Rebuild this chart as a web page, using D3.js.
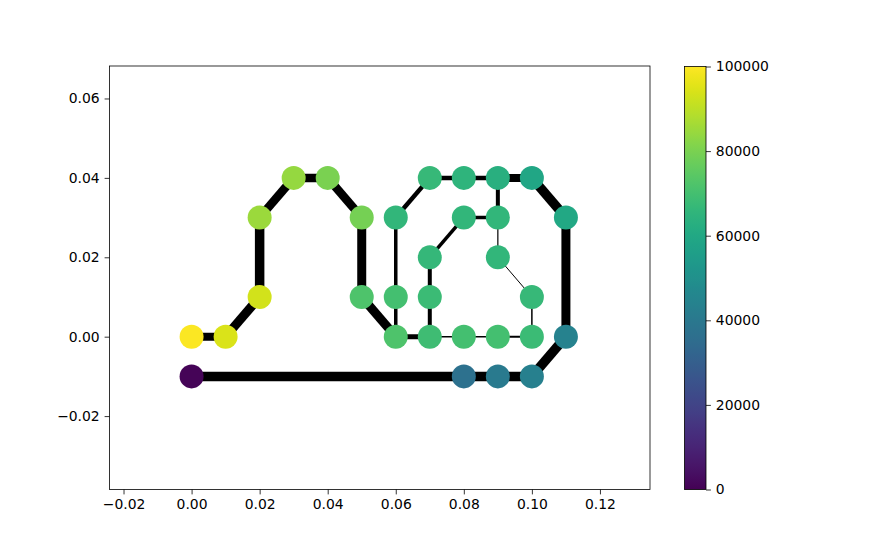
<!DOCTYPE html>
<html>
<head>
<meta charset="utf-8">
<script src="https://cdn.jsdelivr.net/npm/d3@7"></script>
<style>
body{margin:0;background:#fff;}
text{font-family:"DejaVu Sans",sans-serif;}
</style>
</head>
<body>
<svg id="chart" width="873" height="550"></svg>
<script>
// node positions and values
const nodeX = [0.00,0.01,0.02,0.02,0.03,0.04,0.05,0.05,0.06,0.06,0.06,0.07,0.08,0.09,0.10,0.11,0.11,0.10,0.09,0.08,0.00,
               0.07,0.08,0.09,0.10,0.10,0.09,0.09,0.08,0.07,0.07];
const nodeY = [0.00,0.00,0.01,0.03,0.04,0.04,0.03,0.01,0.00,0.01,0.03,0.04,0.04,0.04,0.04,0.03,0.00,-0.01,-0.01,-0.01,-0.01,
               0.00,0.00,0.00,0.00,0.01,0.02,0.03,0.03,0.02,0.01];
const nodeValue = [99500,94500,93000,85000,84000,80000,79000,72000,72000,70000,66000,67000,65000,63000,59000,60000,44500,43000,41000,37000,1000,
                   69000,70000,70000,68000,67000,66000,66000,66000,66500,68000];
// edges: [from, to] and line widths
const edgeFrom = [0,1,2,3,4,5,6,7,8,9,10,11,12,13,14,15,16,17,18,19,13,27,28,29,30,8,21,22,23,24,25,26];
const edgeTo   = [1,2,3,4,5,6,7,8,9,10,11,12,13,14,15,16,17,18,19,20,27,28,29,30,21,21,22,23,24,25,26,27];
const edgeWidth= [8,9,9.5,8.5,8.5,8.5,9,9,3.5,3.5,4.5,4.5,4.5,8,9.5,9,9.5,9.5,9.5,9.5,4,3.5,3.5,4,4,5,1.5,1.5,2,1.5,1,1.2];
const xTicks = [-0.02,0.00,0.02,0.04,0.06,0.08,0.10,0.12];
const yTicks = [-0.02,0.00,0.02,0.04,0.06];
const cbTicks = [0,20000,40000,60000,80000,100000];

const svg = d3.select("#chart");
const L=109.5, R=650, T=66, B=489.5;
const x = d3.scaleLinear().domain([-0.02412,0.13471]).range([L,R]);
const y = d3.scaleLinear().domain([-0.03849,0.06818]).range([B,T]);
const color = d3.scaleSequential(d3.interpolateViridis).domain([0,100000]);
const fs = "13.9px";

// edges
svg.append("g").selectAll("line").data(edgeFrom.map((f,i)=>({f,t:edgeTo[i],w:edgeWidth[i]})))
  .join("line")
  .attr("x1",d=>x(nodeX[d.f])).attr("y1",d=>y(nodeY[d.f]))
  .attr("x2",d=>x(nodeX[d.t])).attr("y2",d=>y(nodeY[d.t]))
  .attr("stroke","#000").attr("stroke-width",d=>d.w);

// nodes
svg.append("g").selectAll("circle").data(nodeX.map((v,i)=>i))
  .join("circle")
  .attr("cx",i=>x(nodeX[i])).attr("cy",i=>y(nodeY[i])).attr("r",12)
  .attr("fill",i=>color(nodeValue[i]));

// axes
const fmt = d3.format(".2f");
const tfmt = v => fmt(v).replace("-","\u2212");
const xa = svg.append("g").attr("transform",`translate(0,${B})`)
  .call(d3.axisBottom(x).tickValues(xTicks).tickFormat(tfmt).tickSize(4.9).tickPadding(4.9));
const ya = svg.append("g").attr("transform",`translate(${L},0)`)
  .call(d3.axisLeft(y).tickValues(yTicks).tickFormat(tfmt).tickSize(4.9).tickPadding(4.9));
[xa,ya].forEach(a=>{
  a.select(".domain").remove();
  a.selectAll("text").attr("font-size",fs).attr("font-family","DejaVu Sans").attr("fill","#000");
  a.selectAll("line").attr("stroke","#000").attr("stroke-width",0.8);
});
svg.append("rect").attr("x",L).attr("y",T).attr("width",R-L).attr("height",B-T)
  .attr("fill","none").attr("stroke","#000").attr("stroke-width",0.8);

// colorbar
const cbL=684.5, cbR=706, cbT=66.5, cbB=489.5;
const defs = svg.append("defs");
const grad = defs.append("linearGradient").attr("id","vir").attr("x1",0).attr("y1",1).attr("x2",0).attr("y2",0);
d3.range(0,1.0001,0.02).forEach(t=>grad.append("stop").attr("offset",t).attr("stop-color",d3.interpolateViridis(t)));
svg.append("rect").attr("x",cbL).attr("y",cbT).attr("width",cbR-cbL).attr("height",cbB-cbT).attr("fill","url(#vir)");
const cy = d3.scaleLinear().domain([0,100000]).range([cbB,cbT]);
const ca = svg.append("g").attr("transform",`translate(${cbR},0)`)
  .call(d3.axisRight(cy).tickValues(cbTicks).tickFormat(d3.format("d")).tickSize(4.9).tickPadding(4.9));
ca.select(".domain").remove();
ca.selectAll("text").attr("font-size",fs).attr("font-family","DejaVu Sans").attr("fill","#000");
ca.selectAll("line").attr("stroke","#000").attr("stroke-width",0.8);
svg.append("rect").attr("x",cbL).attr("y",cbT).attr("width",cbR-cbL).attr("height",cbB-cbT)
  .attr("fill","none").attr("stroke","#000").attr("stroke-width",0.8);
</script>
</body>
</html>
